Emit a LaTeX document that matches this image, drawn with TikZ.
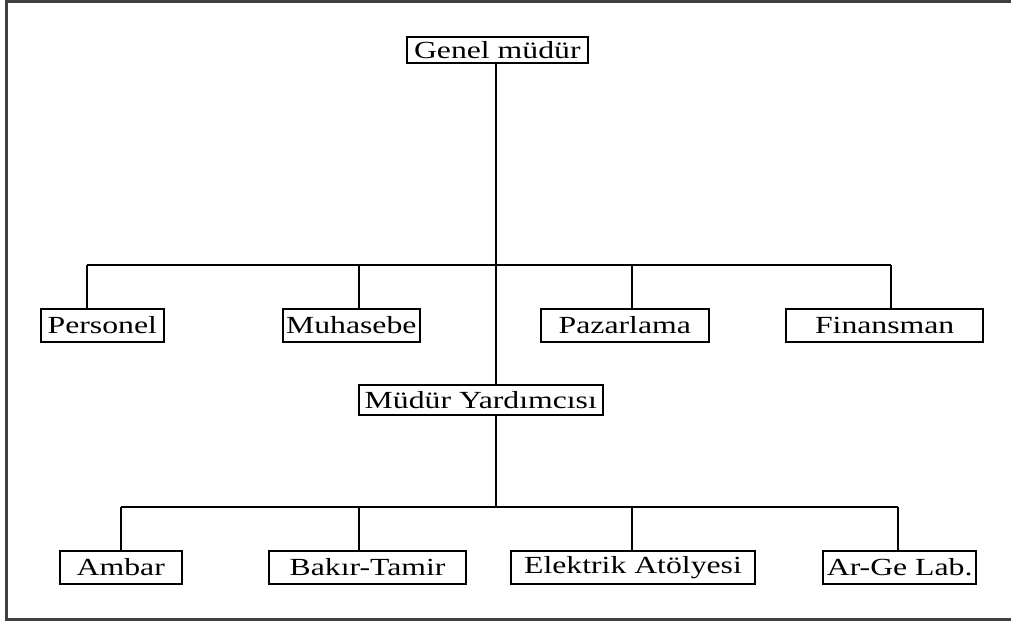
\documentclass[tikz,border=0pt]{standalone}
\usepackage{fontspec}
\setmainfont[FakeStretch=1.29]{Liberation Serif}
\begin{document}
\begin{tikzpicture}[x=0.02cm,y=-0.02cm,line width=1.1pt,
  unit/.style = {draw, inner sep=0pt, minimum height=33*0.02cm,
    font=\fontsize{14}{16}\selectfont},
  frame/.style = {draw=black!75, line width=1.5pt}]
\useasboundingbox (0,0) rectangle (1011,622);
\draw[frame] (1015,1.5) -- (6.5,1.5) -- (6.5,619.5) -- (1015,619.5);

\node[unit, minimum width=181*0.02cm, minimum height=26*0.02cm] (gm) at (497.3,49.7) {Genel müdür};

\node[unit, minimum width=123*0.02cm] (per) at (102.3,325.3) {Personel};
\node[unit, minimum width=137*0.02cm] (muh) at (351.3,325.3) {Muhasebe};
\node[unit, minimum width=168*0.02cm] (paz) at (624.8,325.3) {Pazarlama};
\node[unit, minimum width=197*0.02cm] (fin) at (884.7,325.3) {Finansman};

\node[unit, minimum width=244*0.02cm, minimum height=30*0.02cm] (my) at (480.8,400) {Müdür Yardımcısı};

\node[unit, minimum width=122*0.02cm] (amb) at (120.8,567.5) {Ambar};
\node[unit, minimum width=197*0.02cm] (bak) at (367.5,567.5) {Bakır-Tamir};
\node[unit, minimum width=244*0.02cm] (ele) at (633,567.5) {Elektrik Atölyesi};
\node[unit, minimum width=153*0.02cm] (arg) at (899.7,567.5) {Ar-Ge Lab.};

% trunk
\coordinate (t) at (496,0);
\draw (gm.south -| t) -- (my.north -| t);
\draw (my.south -| t) -- (t |- 0,507);

% upper level
\coordinate (a1) at (87.3,265);
\coordinate (a2) at (359.3,265);
\coordinate (a3) at (632.3,265);
\coordinate (a4) at (890.7,265);
\draw (a1) -- (a4);
\draw (a1) -- (a1 |- per.north);
\draw (a2) -- (a2 |- muh.north);
\draw (a3) -- (a3 |- paz.north);
\draw (a4) -- (a4 |- fin.north);

% lower level
\coordinate (b1) at (121,507);
\coordinate (b2) at (359.3,507);
\coordinate (b3) at (632.3,507);
\coordinate (b4) at (898.3,507);
\draw (b1) -- (b4);
\draw (b1) -- (b1 |- amb.north);
\draw (b2) -- (b2 |- bak.north);
\draw (b3) -- (b3 |- ele.north);
\draw (b4) -- (b4 |- arg.north);

\end{tikzpicture}
\end{document}
